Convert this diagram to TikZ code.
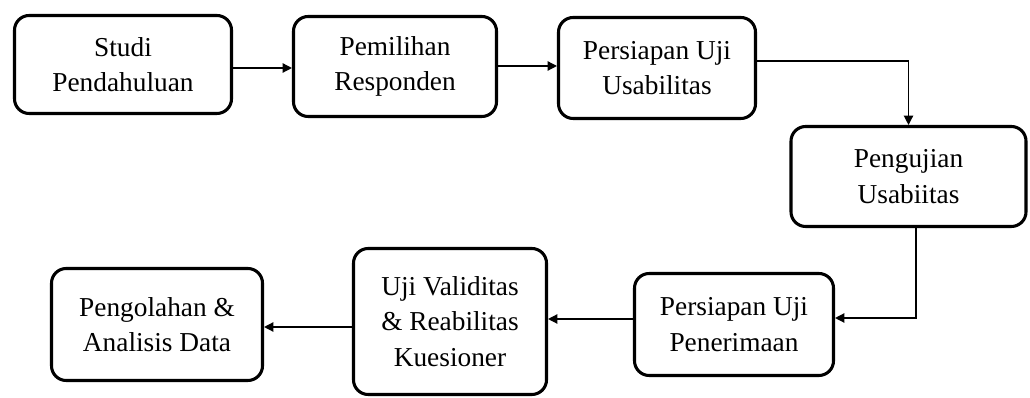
\documentclass[tikz,border=0pt]{standalone}
\usepackage{fontspec}
\setmainfont{Liberation Serif}
\usetikzlibrary{arrows.meta}
\begin{document}
\begin{tikzpicture}[x=0.75pt,y=-0.75pt,
  stepbox/.style={draw=black, line width=2.3pt, rounded corners=11pt, fill=white,
    align=center, inner sep=0pt, font=\fontsize{20.5}{26.5}\selectfont},
  conn/.style={draw=black, line width=1pt, -{Triangle[length=7pt,width=7pt]}}]
\useasboundingbox (0,0) rectangle (1030,398);
\node[stepbox, minimum width=217*0.75pt, minimum height=98*0.75pt] (b1) at (123,64.5) {Studi\\Pendahuluan};
\node[stepbox, minimum width=203*0.75pt, minimum height=100*0.75pt] (b2) at (395,66.5) {Pemilihan\\Responden};
\node[stepbox, minimum width=197*0.75pt, minimum height=101*0.75pt] (b3) at (657,68) {Persiapan Uji\\Usabilitas};
\node[stepbox, minimum width=235*0.75pt, minimum height=100*0.75pt] (b4) at (908.5,176.5) {Pengujian\\Usabiitas};
\node[stepbox, minimum width=199*0.75pt, minimum height=102*0.75pt] (b5) at (734,324.5) {Persiapan Uji\\Penerimaan};
\node[stepbox, minimum width=193*0.75pt, minimum height=146*0.75pt] (b6) at (450,321.5) {Uji Validitas\\\& Reabilitas\\Kuesioner};
\node[stepbox, minimum width=211*0.75pt, minimum height=112*0.75pt] (b7) at (157,324.5) {Pengolahan \&\\Analisis Data};
\draw[conn] (b1.east |- 0,68) -- (b2.west |- 0,68);
\draw[conn] (b2.east |- 0,66) -- (b3.west |- 0,66);
\draw[conn] (b3.east |- 0,61) -| (b4.north);
\draw[conn] (b4.south -| 916,0) |- (b5.east |- 0,318);
\draw[conn] (b5.west |- 0,319) -- (b6.east |- 0,319);
\draw[conn] (b6.west |- 0,327) -- (b7.east |- 0,327);
\end{tikzpicture}
\end{document}
